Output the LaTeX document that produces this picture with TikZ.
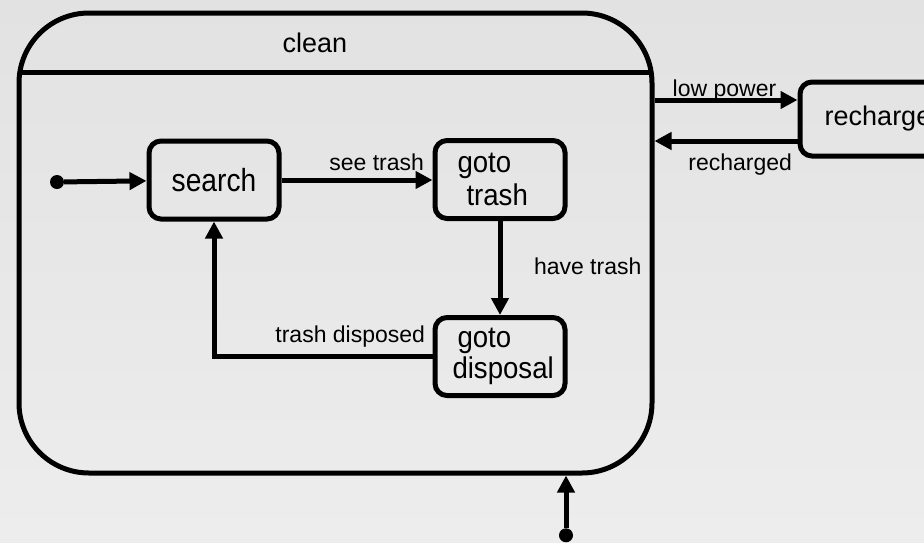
\documentclass[tikz,border=0pt]{standalone}
\usepackage{fontspec}
\setmainfont{Liberation Sans}
\newfontfamily\statefont[FakeStretch=0.92]{Liberation Sans}
\newfontfamily\searchfont[FakeStretch=0.88]{Liberation Sans}
\usetikzlibrary{arrows.meta}
\definecolor{bgtop}{RGB}{226,226,226}
\definecolor{bgbot}{RGB}{237,237,237}
\begin{document}
\begin{tikzpicture}[x=1pt, y=-1pt,
  line/.style={line width=5pt, draw=black},
  statebox/.style={line, rectangle, rounded corners=12pt, minimum width=130pt,
    minimum height=78pt, inner sep=0pt, font=\statefont\fontsize{30pt}{31pt}\selectfont},
  arr/.style={line, -{Triangle[length=17pt, width=17pt]}},
  lbl/.style={font=\fontsize{23pt}{26pt}\selectfont, inner sep=0pt},
  startdot/.style={circle, fill=black, minimum size=14pt, inner sep=0pt}]
  % canvas and soft vertical gradient
  \useasboundingbox (0,0) rectangle (924,542);
  \shade[top color=bgtop, bottom color=bgbot] (0,0) rectangle (924,542);

  % composite state "clean" with its title compartment
  \node[line, rectangle, rounded corners=70pt, minimum width=633pt,
        minimum height=460pt, inner sep=0pt] (clean) at (335.5,243) {};
  \draw[line, shorten <=3pt, shorten >=3pt] (clean.west |- 0,72) -- (clean.east |- 0,72);
  \node[font=\fontsize{27pt}{31pt}\selectfont, anchor=base, inner sep=0pt]
        (cleantitle) at (315,52) {clean};

  % inner states
  \node[statebox, font=\searchfont\fontsize{32pt}{31pt}\selectfont] (search) at (214,180) {search};
  \node[statebox, align=left, text width=85pt, inner xsep=22.5pt]
        (trash) at (500,179.5) {goto\\[2pt]\hspace*{9pt}trash};
  \node[statebox, align=left, text width=95pt, inner xsep=17.5pt]
        (disp) at (500,356.5) {\hspace*{5pt}goto\\disposal};

  % outer state
  \node[statebox, minimum width=156pt, minimum height=74pt,
        font=\fontsize{27pt}{31pt}\selectfont] (recharge) at (878,119) {recharge};

  % initial pseudostates
  \node[startdot] (init) at (57,182) {};
  \node[startdot] (init2) at (566,535.3) {};

  % transitions inside "clean"
  \draw[arr] (init) -- (search);
  \draw[arr] (search) -- (search -| trash.west)
    node[lbl, anchor=base east, pos=1, xshift=-6pt, yshift=10pt] (lseetrash) {see trash};
  \draw[arr] (trash) -- (disp)
    node[lbl, anchor=base west, pos=0.5, xshift=31.5pt, yshift=-6.5pt] (lhavetrash) {have trash};
  \draw[arr] (disp.west) -| (search.south)
    node[lbl, anchor=base east, pos=0, xshift=-5pt, yshift=14pt] (ldisposed) {trash disposed};

  % transitions between "clean" and "recharge"
  \draw[arr] (clean.east |- 0,100) -- (recharge.west |- 0,100)
    node[lbl, anchor=base, pos=0.5, xshift=-1.5pt, yshift=4pt] (llowpower) {low power};
  \draw[arr] (recharge.west |- 0,141) -- (clean.east |- 0,141)
    node[lbl, anchor=base east, pos=0, xshift=-3pt, yshift=-29pt] (lrecharged) {recharged};

  % entry into "clean" from below
  \draw[arr] (init2) -- (init2 |- clean.south);
\end{tikzpicture}
\end{document}
